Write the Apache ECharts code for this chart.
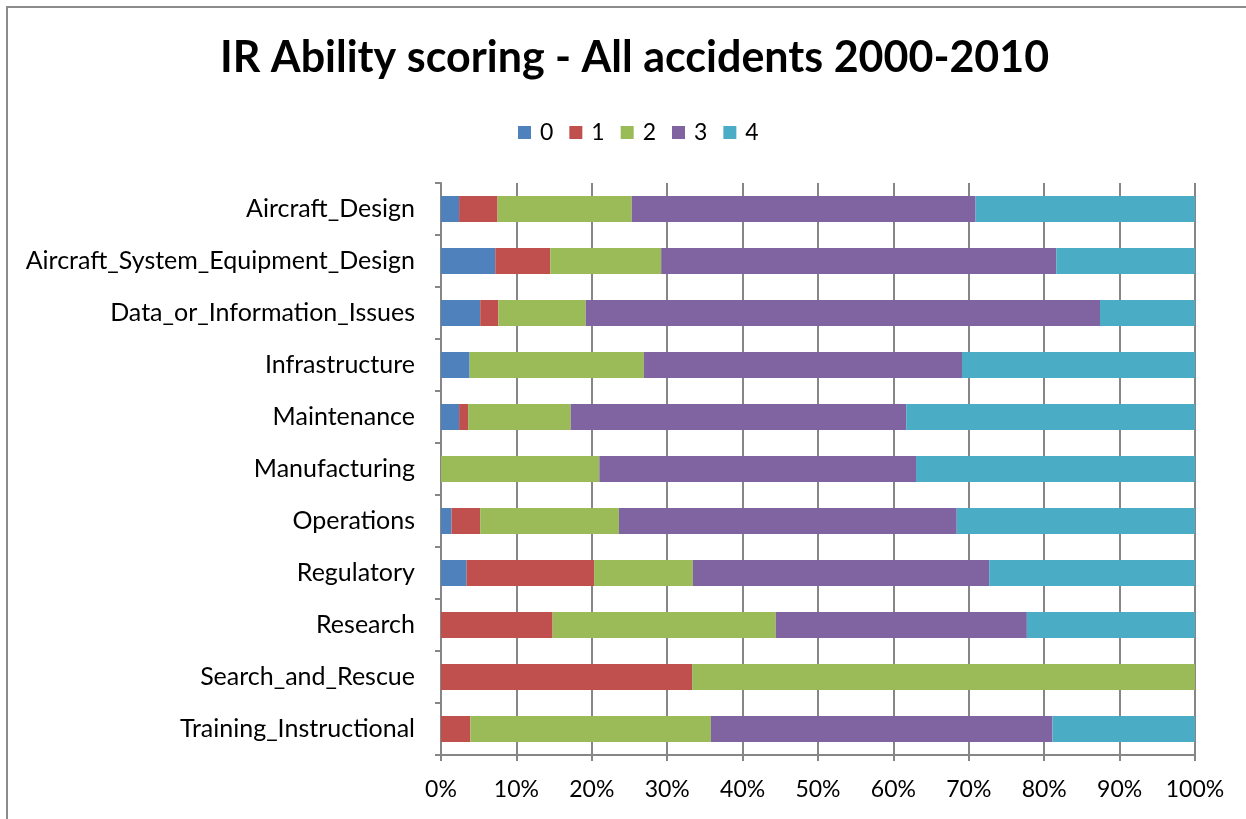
<!DOCTYPE html>
<html>
<head>
<meta charset="utf-8">
<script src="https://cdn.jsdelivr.net/npm/echarts@6/dist/echarts.min.js"></script>
<style>
  html, body { margin: 0; padding: 0; background: #fff; }
  #frame { position: absolute; left: 6px; top: 6px; width: 1400px; height: 1000px; border: 2px solid #8c8c8c; box-sizing: border-box; }
  #main { position: absolute; left: 0; top: 0; width: 1246px; height: 819px; }
</style>
</head>
<body>
<div id="frame"></div>
<div id="main"></div>
<script>
// categories, top to bottom
const categories = [
  'Aircraft_Design',
  'Aircraft_System_Equipment_Design',
  'Data_or_Information_Issues',
  'Infrastructure',
  'Maintenance',
  'Manufacturing',
  'Operations',
  'Regulatory',
  'Research',
  'Search_and_Rescue',
  'Training_Instructional'
]

// share of each score (%) per category
const score0 = [2.4, 7.2, 5.2, 3.8, 2.4, 0, 1.4, 3.4, 0, 0, 0]
const score1 = [5.1, 7.3, 2.4, 0, 1.2, 0, 3.8, 16.9, 14.8, 33.3, 3.9]
const score2 = [17.8, 14.7, 11.6, 23.1, 13.6, 21.0, 18.4, 13.1, 29.6, 66.7, 31.9]
const score3 = [45.6, 52.4, 68.2, 42.2, 44.5, 42.0, 44.8, 39.3, 33.3, 0, 45.3]
const score4 = [29.1, 18.4, 12.6, 30.9, 38.3, 37.0, 31.6, 27.3, 22.3, 0, 18.9]

const seriesNames = ['0', '1', '2', '3', '4']
const seriesData = [score0, score1, score2, score3, score4]
const colors = ['#4F81BD', '#C0504D', '#9BBB59', '#8064A2', '#4BACC6']

const font = 'Lato, "Open Sans", sans-serif'

const chart = echarts.init(document.getElementById('main'))
chart.setOption({
  animation: false,
  color: colors,
  title: {
    text: 'IR Ability scoring - All accidents 2000-2010',
    left: 215,
    top: 32,
    textStyle: { fontFamily: font, fontSize: 43, fontWeight: 'bold', color: '#000' }
  },
  legend: {
    data: seriesNames,
    top: 116,
    left: 513,
    itemWidth: 13,
    itemHeight: 13,
    itemGap: 16,
    icon: 'rect',
    textStyle: { fontFamily: font, fontSize: 23, color: '#000', padding: [0, 0, 0, 4] }
  },
  grid: { left: 441, right: 51, top: 183, bottom: 64 },
  xAxis: {
    type: 'value',
    min: 0,
    max: 100,
    interval: 10,
    axisLine: { show: true, lineStyle: { color: '#868686', width: 2 } },
    axisTick: { show: true, length: 6, lineStyle: { color: '#868686', width: 2 } },
    splitLine: { show: true, lineStyle: { color: '#868686', width: 2 } },
    axisLabel: { formatter: '{value}%', fontFamily: font, fontSize: 23, color: '#000', margin: 23 }
  },
  yAxis: {
    type: 'category',
    inverse: true,
    data: categories,
    axisLine: { show: true, lineStyle: { color: '#868686', width: 2 } },
    axisTick: { show: true, length: 6, lineStyle: { color: '#868686', width: 2 } },
    axisLabel: { fontFamily: font, fontSize: 25, color: '#000', margin: 26 }
  },
  series: seriesData.map((d, i) => ({
    name: seriesNames[i],
    type: 'bar',
    stack: 'total',
    barWidth: 26,
    data: d
  }))
})
</script>
</body>
</html>
